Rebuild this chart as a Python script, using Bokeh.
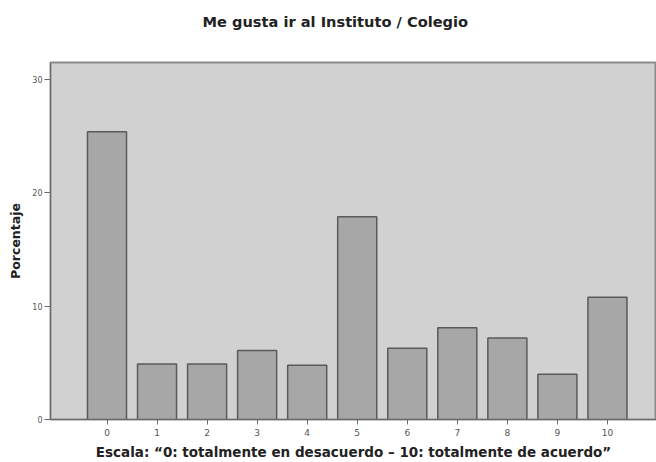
from bokeh.plotting import figure
from bokeh.models import Range1d, FixedTicker, LinearAxis
from bokeh.embed import file_html
from bokeh.resources import INLINE

categories = [0, 1, 2, 3, 4, 5, 6, 7, 8, 9, 10]
percentages = [25.4, 4.9, 4.9, 6.1, 4.8, 17.9, 6.3, 8.1, 7.2, 4.0, 10.8]
y_ticks = [0, 10, 20, 30]

title_text = "Me gusta ir al Instituto / Colegio"
x_label = "Escala: \u201c0: totalmente en desacuerdo \u2013 10: totalmente de acuerdo\u201d"
y_label = "Porcentaje"

FONT = "DejaVu Sans"

p = figure(width=656, height=462, output_backend="svg", toolbar_location=None,
           x_range=Range1d(-1.129, 10.98), y_range=Range1d(0, 31.52),
           min_border_left=50, min_border_right=0, min_border_top=62, min_border_bottom=40)

xa = p.below[0]
ya = p.left[0]

p.title.text = title_text
p.title.align = "left"
p.title.offset = 152
p.title.text_font = FONT
p.title.text_font_size = "14.6px"
p.title.text_font_style = "bold"
p.title.text_color = "#222222"
p.title.standoff = 10

# invisible spacer axis above the frame, lifting the title to its place
spacer = LinearAxis(ticker=FixedTicker(ticks=[0]), axis_line_color=None,
                    major_tick_line_color=None, minor_tick_line_color=None,
                    major_tick_out=28, major_tick_in=0,
                    major_label_text_font_size="1px", major_label_text_alpha=0,
                    major_label_overrides={0: " "},
                    major_label_standoff=0, axis_label_standoff=0)
p.add_layout(spacer, "above")

p.background_fill_color = "#d1d1d1"
p.border_fill_color = "white"
p.outline_line_color = "#8c8c8c"
p.outline_line_width = 2
p.grid.visible = False

p.vbar(x=categories, top=percentages, width=0.78, bottom=0,
       fill_color="#a7a7a7", line_color="#5a5a5a", line_width=1.5)

for ax in (xa, ya):
    ax.axis_line_color = "#6a6a6a"
    ax.major_tick_line_color = "#6a6a6a"
    ax.minor_tick_line_color = None
    ax.major_tick_in = 0
    ax.major_label_text_font = FONT
    ax.major_label_text_color = "#555555"
    ax.axis_label_text_font = FONT
    ax.axis_label_text_font_style = "bold"
    ax.axis_label_text_color = "#222222"

xa.ticker = FixedTicker(ticks=categories)
ya.ticker = FixedTicker(ticks=y_ticks)
xa.axis_label = x_label
ya.axis_label = y_label
xa.major_tick_out = 5
ya.major_tick_out = 6
xa.major_label_text_font_size = "9px"
ya.major_label_text_font_size = "8px"
xa.axis_label_text_font_size = "13.5px"
ya.axis_label_text_font_size = "12.5px"
xa.major_label_standoff = 4
xa.axis_label_standoff = 5
ya.major_label_standoff = 2
ya.axis_label_standoff = 6

open("out.html", "w").write(file_html(p, INLINE))
